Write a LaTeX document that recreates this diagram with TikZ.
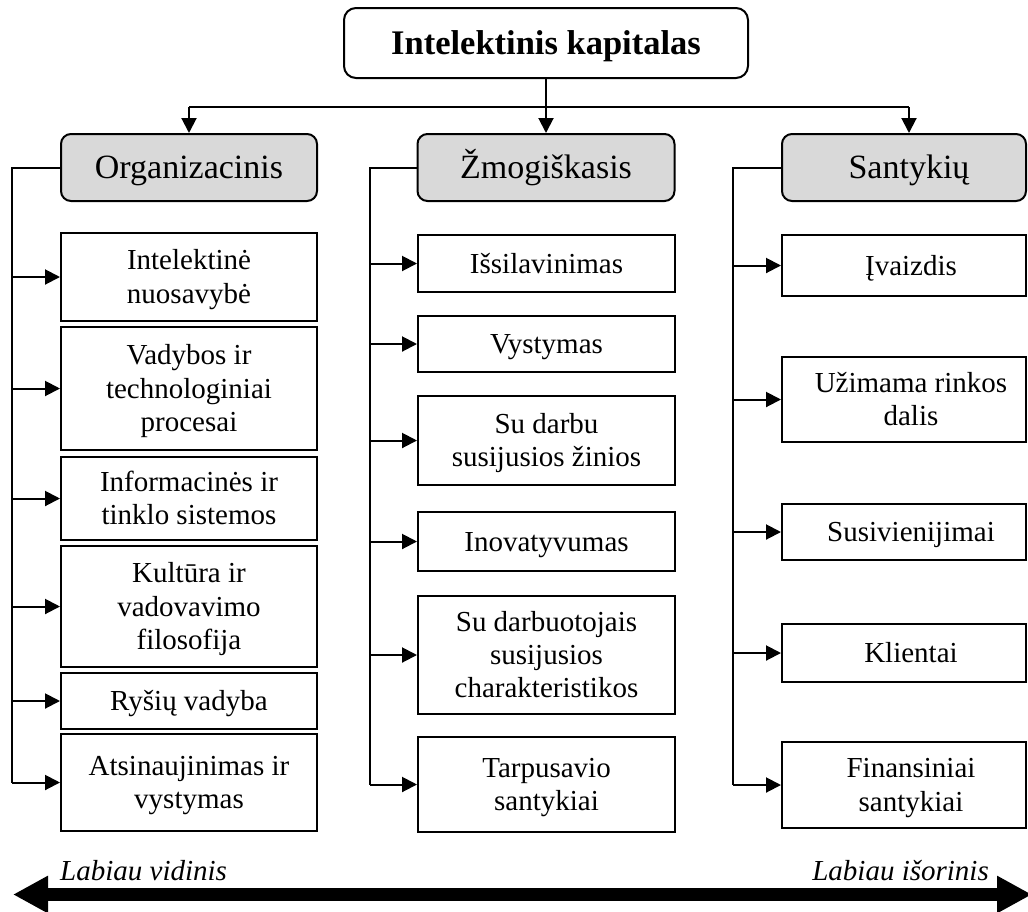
\documentclass[tikz,border=0pt]{standalone}
\usepackage{fontspec}
\setmainfont{Liberation Serif}
\usetikzlibrary{arrows.meta}
\newcommand\ttlfont{\fontsize{34.5}{40}\selectfont\bfseries}
\newcommand\catfont{\fontsize{34}{40}\selectfont}
\newcommand\itemfont{\fontsize{29}{33.3}\selectfont}
\newcommand\lblfont{\fontsize{29}{34}\selectfont\itshape}
% item text: lines 33.3pt apart, block centred from cap top of the first
% line to the baseline of the last one
\newcommand\itm[1]{\begin{tabular}{@{}c@{}}\rule{0pt}{29.2pt}#1\end{tabular}}
% right-column text sits a little right of the box centre
\newcommand\ritm[1]{\hspace*{14pt}\itm{#1}}
\definecolor{catgray}{HTML}{D9D9D9}
\begin{document}
\begin{tikzpicture}[x=1pt,y=-1pt,
  ttl/.style={draw, line width=2pt, rounded corners=12pt, minimum width=404pt,
    minimum height=70pt, font=\ttlfont, inner sep=0pt,
    text height=22.8pt, text depth=0pt},
  cat/.style={draw, fill=catgray, line width=2pt, rounded corners=10pt,
    minimum height=67pt, font=\catfont, inner sep=0pt,
    text height=22.5pt, text depth=0pt},
  item/.style={draw, line width=2pt, font=\itemfont, inner sep=0pt},
  oitem/.style={item, minimum width=256pt},
  zitem/.style={item, minimum width=257pt},
  sitem/.style={item, minimum width=244pt},
  link/.style={line width=2pt},
  tip/.style={link, -{Triangle[length=15pt,width=15pt]}},
  endlbl/.style={font=\lblfont, inner sep=0pt},
]
\useasboundingbox (0,0) rectangle (1028,911);

% top level
\node[ttl] (ttl) at (546,43) {Intelektinis kapitalas};

% three kinds of capital
\node[cat, minimum width=256pt] (org) at (189,167.5) {Organizacinis};
\node[cat, minimum width=257pt] (zm) at (546,167.5) {Žmogiškasis};
\node[cat, minimum width=244pt] (sa) at (904,167.5) {\hspace*{10pt}Santykių};

% organisational capital
\node[oitem, minimum height=88pt]  (o1) at (189,277)   {\itm{Intelektinė\\nuosavybė}};
\node[oitem, minimum height=123pt] (o2) at (189,388.5) {\itm{Vadybos ir\\technologiniai\\procesai}};
\node[oitem, minimum height=83pt]  (o3) at (189,498.5) {\itm{Informacinės ir\\tinklo sistemos}};
\node[oitem, minimum height=121pt] (o4) at (189,606.5) {\itm{Kultūra ir\\vadovavimo\\filosofija}};
\node[oitem, minimum height=56pt]  (o5) at (189,701)   {\itm{Ryšių vadyba}};
\node[oitem, minimum height=97pt]  (o6) at (189,782.5) {\itm{Atsinaujinimas ir\\vystymas}};

% human capital
\node[zitem, minimum height=57pt]  (z1) at (546.5,263.5) {\itm{Išsilavinimas}};
\node[zitem, minimum height=56pt]  (z2) at (546.5,344)   {\itm{Vystymas}};
\node[zitem, minimum height=89pt]  (z3) at (546.5,440.5) {\itm{Su darbu\\susijusios žinios}};
\node[zitem, minimum height=59pt]  (z4) at (546.5,541.5) {\itm{Inovatyvumas}};
\node[zitem, minimum height=118pt] (z5) at (546.5,655)   {\itm{Su darbuotojais\\susijusios\\charakteristikos}};
\node[zitem, minimum height=95pt]  (z6) at (546.5,784.5) {\itm{Tarpusavio\\santykiai}};

% relational capital
\node[sitem, minimum height=61pt] (s1) at (904,265.5) {\ritm{Įvaizdis}};
\node[sitem, minimum height=85pt] (s2) at (904,399.5) {\ritm{Užimama rinkos\\dalis}};
\node[sitem, minimum height=56pt] (s3) at (904,532)   {\ritm{Susivienijimai}};
\node[sitem, minimum height=58pt] (s4) at (904,653)   {\ritm{Klientai}};
\node[sitem, minimum height=86pt] (s5) at (904,785)   {\ritm{Finansiniai\\santykiai}};

% distribution bus under the title
\coordinate (bus) at (546,107);
\coordinate (sabus) at (909,107);
\draw[link] (ttl.south) -- (bus);
\draw[tip] (bus) -- (zm.north);
\draw[link] (bus -| org.north) -- (sabus);
\draw[tip] (bus -| org.north) -- (org.north);
\draw[tip] (sabus) -- (sabus |- sa.north);

% brackets feeding each column
\coordinate (ob) at (12,782.5);
\coordinate (zb) at (370,784.5);
\coordinate (sb) at (733,785);
\draw[link] (org.west) -| (ob);
\draw[link] (zm.west) -| (zb);
\draw[link] (sa.west) -| (sb);
\foreach \b in {o1,o2,o3,o4,o5,o6}
  \draw[tip] (\b.west -| ob) -- (\b.west);
\foreach \b in {z1,z2,z3,z4,z5,z6}
  \draw[tip] (\b.west -| zb) -- (\b.west);
\foreach \b in {s1,s2,s3,s4,s5}
  \draw[tip] (\b.west -| sb) -- (\b.west);

% internal / external scale
\node[endlbl, anchor=base west] (lv) at (60,880) {Labiau vidinis};
\node[endlbl, anchor=base east] (li) at (989,880) {Labiau išorinis};
\coordinate (al) at (13,894.5);
\coordinate (ar) at (1032,894.5);
\draw[line width=13pt, {Triangle[length=35pt,width=35pt]}-{Triangle[length=35pt,width=35pt]}] (al) -- (ar);
\end{tikzpicture}
\end{document}
